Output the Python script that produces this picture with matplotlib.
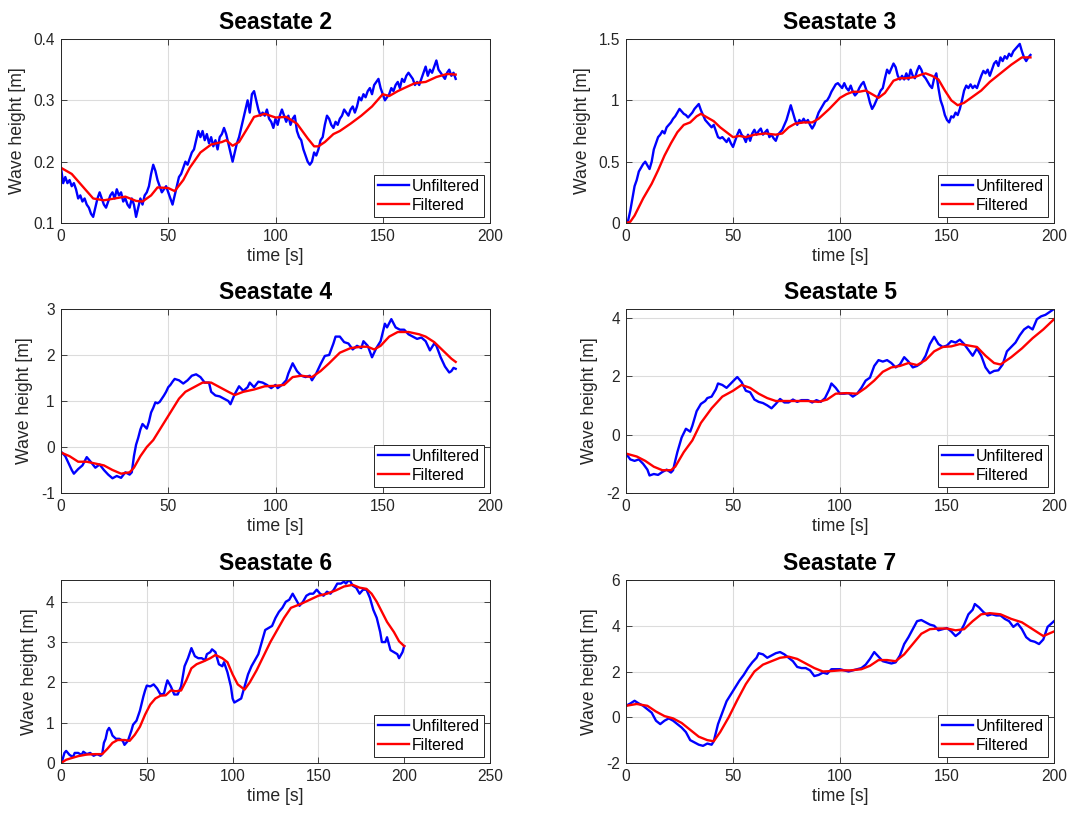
import numpy as np
import matplotlib
matplotlib.use("Agg")
import matplotlib.pyplot as plt
from matplotlib.ticker import FuncFormatter

plt.rcParams["font.family"] = ["Liberation Sans", "DejaVu Sans"]

# ---------------- Seastate 2 ----------------
ss2_raw_t = np.arange(0, 185)
ss2_raw = [0.19, 0.165, 0.175, 0.165, 0.17, 0.16, 0.165, 0.155, 0.14, 0.145,
           0.135, 0.14, 0.13, 0.125, 0.115, 0.11, 0.125, 0.14, 0.15, 0.14,
           0.13, 0.125, 0.135, 0.145, 0.15, 0.14, 0.155, 0.145, 0.15, 0.135,
           0.14, 0.13, 0.125, 0.14, 0.13, 0.11, 0.125, 0.14, 0.13, 0.145,
           0.15, 0.16, 0.18, 0.195, 0.185, 0.17, 0.16, 0.15, 0.155, 0.16,
           0.15, 0.14, 0.13, 0.145, 0.16, 0.175, 0.18, 0.19, 0.2, 0.195,
           0.205, 0.215, 0.22, 0.235, 0.25, 0.24, 0.25, 0.235, 0.245, 0.23,
           0.24, 0.225, 0.235, 0.22, 0.24, 0.245, 0.255, 0.245, 0.23, 0.215,
           0.2, 0.215, 0.23, 0.24, 0.255, 0.27, 0.285, 0.3, 0.28, 0.31,
           0.315, 0.3, 0.285, 0.275, 0.28, 0.275, 0.285, 0.27, 0.265, 0.255,
           0.27, 0.26, 0.275, 0.285, 0.275, 0.265, 0.275, 0.26, 0.27, 0.275,
           0.25, 0.24, 0.235, 0.22, 0.21, 0.2, 0.195, 0.2, 0.215, 0.21,
           0.22, 0.235, 0.24, 0.26, 0.275, 0.27, 0.26, 0.255, 0.265, 0.26,
           0.27, 0.275, 0.285, 0.28, 0.275, 0.285, 0.29, 0.28, 0.29, 0.305,
           0.3, 0.31, 0.305, 0.315, 0.32, 0.31, 0.325, 0.33, 0.335, 0.32,
           0.31, 0.3, 0.305, 0.31, 0.32, 0.315, 0.325, 0.33, 0.32, 0.335,
           0.33, 0.34, 0.345, 0.34, 0.335, 0.325, 0.33, 0.325, 0.335, 0.345,
           0.355, 0.34, 0.35, 0.345, 0.355, 0.365, 0.35, 0.345, 0.34, 0.335,
           0.345, 0.35, 0.34, 0.345, 0.335]
ss2_filt_t = [0, 5, 10, 15, 20, 25, 30, 35, 38, 42, 45, 50, 53, 57, 60, 65,
              70, 75, 77, 80, 83, 87, 90, 95, 100, 105, 110, 115, 118, 120,
              123, 127, 130, 135, 140, 145, 150, 153, 157, 160, 165, 170,
              175, 180, 184]
ss2_filt = [0.19, 0.18, 0.16, 0.14, 0.137, 0.14, 0.143, 0.136, 0.135, 0.145,
            0.158, 0.157, 0.152, 0.17, 0.19, 0.215, 0.228, 0.232, 0.235,
            0.226, 0.232, 0.255, 0.273, 0.278, 0.272, 0.273, 0.262, 0.238,
            0.225, 0.225, 0.232, 0.245, 0.25, 0.262, 0.275, 0.29, 0.31,
            0.307, 0.315, 0.32, 0.328, 0.33, 0.338, 0.343, 0.342]

# ---------------- Seastate 3 ----------------
ss3_raw_t = np.arange(0, 190)
ss3_raw = [0.01, 0.02, 0.1, 0.2, 0.3, 0.35, 0.42, 0.45, 0.48, 0.5,
           0.47, 0.44, 0.5, 0.6, 0.65, 0.7, 0.72, 0.75, 0.73, 0.78,
           0.8, 0.82, 0.85, 0.87, 0.9, 0.93, 0.91, 0.89, 0.88, 0.86,
           0.88, 0.9, 0.93, 0.95, 0.97, 0.92, 0.88, 0.84, 0.82, 0.8,
           0.78, 0.8, 0.75, 0.7, 0.69, 0.7, 0.68, 0.66, 0.69, 0.65,
           0.62, 0.67, 0.72, 0.76, 0.72, 0.7, 0.66, 0.72, 0.67, 0.73,
           0.76, 0.72, 0.75, 0.77, 0.72, 0.74, 0.76, 0.7, 0.72, 0.69,
           0.67, 0.72, 0.74, 0.76, 0.8, 0.84, 0.9, 0.96, 0.9, 0.84,
           0.8, 0.84, 0.82, 0.85, 0.82, 0.84, 0.8, 0.77, 0.8, 0.85,
           0.9, 0.93, 0.96, 0.99, 1.0, 1.03, 1.07, 1.1, 1.13, 1.14,
           1.12, 1.1, 1.14, 1.1, 1.08, 1.12, 1.07, 1.04, 1.06, 1.1,
           1.13, 1.15, 1.1, 1.05, 0.98, 0.93, 0.96, 1.0, 1.04, 1.08,
           1.1, 1.18, 1.25, 1.22, 1.26, 1.3, 1.27, 1.2, 1.17, 1.2,
           1.17, 1.22, 1.17, 1.25, 1.2, 1.18, 1.24, 1.28, 1.25, 1.2,
           1.18, 1.15, 1.12, 1.1, 1.18, 1.22, 1.1, 1.0, 0.95, 0.88,
           0.84, 0.82, 0.87, 0.86, 0.9, 0.88, 0.93, 1.0, 1.08, 1.12,
           1.1, 1.13, 1.1, 1.12, 1.1, 1.15, 1.2, 1.24, 1.22, 1.25,
           1.2, 1.25, 1.3, 1.32, 1.28, 1.35, 1.32, 1.36, 1.34, 1.38,
           1.36, 1.4, 1.42, 1.44, 1.46, 1.4, 1.35, 1.32, 1.35, 1.37]
ss3_filt_t = [0, 2, 4, 6, 8, 10, 12, 15, 18, 21, 24, 27, 30, 33, 35, 38, 41,
              44, 47, 50, 53, 56, 60, 65, 70, 73, 76, 79, 83, 87, 90, 95,
              100, 103, 106, 109, 112, 115, 118, 121, 125, 128, 131, 135,
              138, 140, 143, 146, 149, 152, 155, 158, 162, 166, 170, 175,
              180, 185, 189]
ss3_filt = [0.0, 0.01, 0.06, 0.13, 0.2, 0.26, 0.32, 0.43, 0.55, 0.65, 0.74,
            0.8, 0.82, 0.87, 0.89, 0.86, 0.83, 0.78, 0.74, 0.7, 0.71, 0.7,
            0.72, 0.73, 0.72, 0.73, 0.78, 0.81, 0.82, 0.82, 0.85, 0.93,
            1.02, 1.05, 1.07, 1.07, 1.08, 1.05, 1.02, 1.06, 1.16, 1.18,
            1.18, 1.19, 1.21, 1.22, 1.2, 1.17, 1.08, 1.0, 0.96, 0.98, 1.03,
            1.08, 1.15, 1.22, 1.29, 1.35, 1.35]

# ---------------- Seastate 4 ----------------
ss4_raw_t = [0, 2, 4, 5, 6, 8, 10, 12, 14, 16, 18, 20, 22, 24, 26, 28, 30,
             32, 33, 34, 35, 36, 37, 38, 39, 40, 41, 42, 43, 44, 45, 46, 47,
             48, 49, 50, 51, 52, 53, 55, 57, 59, 61, 63, 65, 67, 69, 70, 72,
             74, 76, 78, 79, 81, 83, 85, 87, 88, 90, 92, 94, 96, 98, 100,
             101, 103, 105, 106, 108, 110, 112, 114, 116, 117, 119, 121,
             123, 125, 127, 128, 130, 132, 134, 136, 138, 140, 141, 143,
             145, 147, 149, 151, 152, 154, 156, 158, 160, 162, 164, 166,
             168, 170, 172, 174, 175, 177, 179, 181, 182, 183, 184]
ss4_raw = [-0.1, -0.2, -0.4, -0.5, -0.58, -0.48, -0.4, -0.22, -0.33, -0.45,
           -0.38, -0.5, -0.6, -0.68, -0.63, -0.67, -0.55, -0.6, -0.55, -0.2,
           0.05, 0.2, 0.38, 0.5, 0.45, 0.4, 0.55, 0.75, 0.85, 0.97, 0.95,
           0.98, 1.05, 1.12, 1.2, 1.3, 1.35, 1.42, 1.48, 1.45, 1.38, 1.45,
           1.55, 1.58, 1.52, 1.4, 1.4, 1.2, 1.12, 1.1, 1.05, 1.0, 0.93,
           1.15, 1.32, 1.22, 1.3, 1.4, 1.3, 1.42, 1.4, 1.35, 1.28, 1.35,
           1.28, 1.35, 1.45, 1.6, 1.82, 1.65, 1.55, 1.52, 1.55, 1.45, 1.6,
           1.8, 1.98, 2.0, 2.25, 2.4, 2.4, 2.28, 2.25, 2.12, 2.2, 2.15,
           2.3, 2.2, 1.95, 2.15, 2.3, 2.68, 2.6, 2.78, 2.6, 2.55, 2.55,
           2.45, 2.4, 2.35, 2.38, 2.3, 2.1, 2.25, 2.2, 1.95, 1.75, 1.62,
           1.65, 1.72, 1.7]
ss4_filt_t = [0, 4, 8, 12, 16, 20, 24, 28, 32, 34, 37, 40, 43, 47, 51, 55,
              58, 62, 66, 70, 74, 78, 81, 85, 90, 95, 100, 104, 108, 112,
              117, 121, 125, 130, 135, 140, 143, 146, 149, 153, 157, 162,
              167, 170, 174, 178, 182, 184]
ss4_filt = [-0.12, -0.2, -0.32, -0.32, -0.36, -0.4, -0.5, -0.58, -0.55,
            -0.45, -0.2, 0.0, 0.15, 0.45, 0.75, 1.05, 1.2, 1.3, 1.4, 1.4,
            1.3, 1.2, 1.13, 1.2, 1.25, 1.32, 1.33, 1.35, 1.52, 1.55, 1.52,
            1.65, 1.82, 2.05, 2.15, 2.18, 2.18, 2.12, 2.2, 2.4, 2.5, 2.5,
            2.45, 2.4, 2.28, 2.1, 1.92, 1.85]

# ---------------- Seastate 5 ----------------
ss5_raw_t = [0, 2, 4, 6, 8, 10, 11, 13, 15, 17, 19, 21, 22, 23, 24, 26, 28,
             29, 30, 31, 33, 35, 37, 38, 40, 42, 43, 45, 47, 49, 51, 52, 54,
             56, 58, 60, 62, 64, 66, 68, 70, 72, 74, 76, 78, 80, 82, 85, 87,
             89, 91, 93, 95, 96, 98, 100, 102, 104, 106, 108, 110, 112, 114,
             116, 118, 120, 122, 124, 126, 128, 130, 132, 134, 136, 138,
             140, 142, 144, 146, 148, 150, 152, 154, 156, 158, 160, 162,
             164, 166, 168, 170, 172, 174, 176, 178, 180, 182, 184, 186,
             188, 190, 192, 194, 196, 198, 200]
ss5_raw = [-0.65, -0.85, -0.9, -0.85, -1.0, -1.2, -1.4, -1.35, -1.38, -1.28,
           -1.2, -1.3, -1.22, -0.9, -0.6, -0.1, 0.2, 0.15, 0.1, 0.3, 0.8,
           1.05, 1.15, 1.25, 1.3, 1.55, 1.75, 1.7, 1.6, 1.75, 1.9, 1.97,
           1.8, 1.5, 1.45, 1.2, 1.12, 1.08, 1.0, 0.9, 1.05, 1.22, 1.1, 1.1,
           1.2, 1.12, 1.18, 1.18, 1.1, 1.18, 1.12, 1.25, 1.55, 1.75, 1.6,
           1.4, 1.4, 1.42, 1.3, 1.4, 1.6, 1.85, 1.95, 2.35, 2.55, 2.5, 2.55,
           2.45, 2.3, 2.4, 2.65, 2.5, 2.3, 2.35, 2.45, 2.7, 3.1, 3.35, 3.1,
           3.0, 3.05, 3.2, 3.15, 3.25, 3.1, 2.9, 2.7, 2.95, 2.7, 2.3, 2.1,
           2.18, 2.2, 2.4, 2.85, 3.0, 3.15, 3.4, 3.6, 3.7, 3.6, 3.95, 4.05,
           4.1, 4.2, 4.3]
ss5_filt_t = [0, 5, 9, 13, 17, 21, 23, 27, 31, 35, 40, 45, 50, 54, 58, 62,
              66, 70, 75, 80, 85, 90, 94, 98, 103, 108, 112, 116, 120, 124,
              128, 132, 136, 140, 144, 148, 152, 156, 160, 164, 168, 172,
              175, 180, 185, 190, 195, 200]
ss5_filt = [-0.65, -0.75, -0.9, -1.1, -1.22, -1.22, -1.1, -0.6, -0.2, 0.4,
            0.9, 1.3, 1.5, 1.7, 1.6, 1.4, 1.25, 1.15, 1.15, 1.15, 1.15,
            1.12, 1.2, 1.4, 1.42, 1.4, 1.6, 1.85, 2.15, 2.3, 2.35, 2.45,
            2.38, 2.55, 2.85, 3.0, 3.02, 3.1, 3.05, 3.0, 2.7, 2.45, 2.4,
            2.65, 2.95, 3.3, 3.6, 3.95]

# ---------------- Seastate 6 ----------------
ss6_raw_t = [0, 1, 2, 3, 5, 7, 8, 10, 12, 13, 15, 17, 19, 21, 23, 24, 25,
             26, 27, 28, 29, 30, 32, 34, 36, 37, 39, 41, 42, 44, 46, 48, 49,
             50, 52, 54, 56, 58, 60, 61, 62, 64, 66, 68, 70, 72, 74, 76, 78,
             80, 82, 84, 85, 87, 88, 90, 92, 94, 95, 97, 99, 100, 101, 103,
             105, 107, 109, 111, 113, 115, 117, 119, 121, 123, 125, 127,
             129, 131, 133, 135, 137, 139, 141, 143, 145, 147, 149, 151,
             153, 155, 157, 159, 161, 163, 165, 166, 168, 170, 172, 174,
             176, 178, 180, 182, 184, 186, 187, 189, 190, 192, 194, 196,
             197, 199, 200]
ss6_raw = [0.0, 0.1, 0.25, 0.3, 0.2, 0.15, 0.25, 0.25, 0.2, 0.28, 0.22,
           0.25, 0.18, 0.22, 0.18, 0.22, 0.5, 0.6, 0.8, 0.87, 0.8, 0.68,
           0.6, 0.6, 0.55, 0.45, 0.55, 0.8, 0.95, 1.05, 1.3, 1.65, 1.8,
           1.92, 1.9, 1.95, 1.85, 1.7, 1.72, 1.9, 2.05, 1.9, 1.7, 1.7, 1.9,
           2.4, 2.6, 2.85, 2.65, 2.6, 2.6, 2.55, 2.7, 2.75, 2.82, 2.75,
           2.45, 2.4, 2.5, 2.25, 1.9, 1.6, 1.5, 1.55, 1.6, 1.9, 2.2, 2.4,
           2.55, 2.7, 3.0, 3.3, 3.35, 3.4, 3.6, 3.75, 3.85, 4.0, 4.05, 4.2,
           4.05, 3.9, 4.0, 4.15, 4.2, 4.2, 4.3, 4.2, 4.15, 4.25, 4.2, 4.3,
           4.45, 4.45, 4.5, 4.45, 4.55, 4.4, 4.35, 4.2, 4.3, 4.3, 4.1, 3.8,
           3.6, 3.25, 3.0, 3.0, 3.12, 2.8, 2.75, 2.7, 2.6, 2.75, 2.9]
ss6_filt_t = [0, 3, 6, 10, 15, 20, 24, 27, 30, 33, 37, 40, 43, 46, 49, 52,
              55, 58, 61, 64, 67, 70, 73, 76, 79, 83, 87, 90, 94, 97, 100,
              103, 107, 110, 114, 118, 122, 126, 130, 134, 137, 140, 145,
              150, 155, 160, 165, 170, 174, 178, 181, 184, 187, 190, 194,
              197, 200]
ss6_filt = [0.0, 0.08, 0.12, 0.17, 0.21, 0.22, 0.22, 0.35, 0.5, 0.57, 0.57,
            0.55, 0.7, 0.9, 1.2, 1.45, 1.6, 1.67, 1.68, 1.8, 1.78, 1.8,
            2.05, 2.35, 2.45, 2.52, 2.6, 2.68, 2.6, 2.5, 2.2, 1.95, 1.82,
            2.0, 2.3, 2.65, 3.0, 3.3, 3.6, 3.85, 3.9, 3.95, 4.05, 4.15, 4.2,
            4.28, 4.38, 4.42, 4.35, 4.32, 4.2, 4.0, 3.75, 3.5, 3.25, 3.02,
            2.9]

# ---------------- Seastate 7 ----------------
ss7_raw_t = [0, 2, 4, 6, 8, 10, 12, 14, 16, 18, 20, 22, 24, 26, 28, 30, 32,
             34, 36, 38, 40, 41, 43, 45, 47, 49, 51, 53, 55, 57, 59, 61, 62,
             64, 66, 68, 70, 72, 74, 76, 78, 80, 82, 84, 86, 88, 90, 92, 94,
             96, 98, 100, 102, 104, 106, 108, 110, 112, 114, 116, 118, 120,
             122, 124, 126, 128, 130, 132, 134, 136, 138, 140, 142, 144,
             146, 148, 150, 152, 154, 156, 158, 160, 162, 163, 165, 167,
             169, 171, 173, 175, 177, 179, 181, 183, 185, 187, 189, 191,
             193, 195, 197, 200]
ss7_raw = [0.5, 0.6, 0.72, 0.6, 0.5, 0.35, 0.2, -0.15, -0.3, -0.15, -0.05,
           -0.15, -0.3, -0.45, -0.65, -1.0, -1.1, -1.2, -1.25, -1.15, -1.2,
           -1.05, -0.3, 0.2, 0.7, 1.0, 1.3, 1.6, 1.85, 2.15, 2.4, 2.6, 2.8,
           2.75, 2.6, 2.7, 2.8, 2.85, 2.75, 2.6, 2.45, 2.2, 2.15, 2.15,
           2.05, 1.8, 1.85, 1.95, 1.9, 2.1, 2.1, 2.1, 2.05, 2.0, 2.05, 2.1,
           2.15, 2.3, 2.55, 2.85, 2.65, 2.45, 2.4, 2.35, 2.4, 2.7, 3.2, 3.5,
           3.85, 4.2, 4.25, 4.15, 4.05, 4.0, 3.8, 3.85, 3.9, 3.75, 3.55,
           3.7, 4.05, 4.5, 4.7, 4.95, 4.8, 4.6, 4.45, 4.5, 4.45, 4.45, 4.3,
           4.2, 3.95, 4.1, 3.85, 3.5, 3.35, 3.3, 3.2, 3.4, 3.95, 4.2]
ss7_filt_t = [0, 5, 10, 14, 18, 22, 26, 30, 34, 38, 41, 44, 48, 52, 56, 60,
              64, 68, 72, 76, 80, 84, 88, 92, 96, 100, 105, 110, 114, 118,
              122, 126, 130, 134, 138, 142, 146, 150, 154, 158, 162, 166,
              170, 175, 180, 185, 190, 195, 200]
ss7_filt = [0.5, 0.58, 0.5, 0.25, 0.05, -0.05, -0.25, -0.55, -0.85, -1.0,
            -1.05, -0.65, 0.0, 0.75, 1.45, 2.0, 2.3, 2.45, 2.6, 2.65, 2.55,
            2.35, 2.15, 2.0, 2.02, 2.05, 2.05, 2.1, 2.25, 2.5, 2.5, 2.45,
            2.75, 3.2, 3.65, 3.85, 3.88, 3.88, 3.8, 3.85, 4.2, 4.5, 4.55,
            4.5, 4.3, 4.15, 3.85, 3.55, 3.75]

# ---------------- axis settings per panel ----------------
titles = ["Seastate 2", "Seastate 3", "Seastate 4",
          "Seastate 5", "Seastate 6", "Seastate 7"]
xlims = [(0, 200), (0, 200), (0, 200), (0, 200), (0, 250), (0, 200)]
ylims = [(0.1, 0.4), (0, 1.5), (-1, 3), (-2, 4.3), (0, 4.54), (-2, 6)]
yticks = [[0.1, 0.2, 0.3, 0.4], [0, 0.5, 1, 1.5], [-1, 0, 1, 2, 3],
          [-2, 0, 2, 4], [0, 1, 2, 3, 4], [-2, 0, 2, 4, 6]]

raw_series = [(ss2_raw_t, ss2_raw), (ss3_raw_t, ss3_raw), (ss4_raw_t, ss4_raw),
              (ss5_raw_t, ss5_raw), (ss6_raw_t, ss6_raw), (ss7_raw_t, ss7_raw)]
filt_series = [(ss2_filt_t, ss2_filt), (ss3_filt_t, ss3_filt),
               (ss4_filt_t, ss4_filt), (ss5_filt_t, ss5_filt),
               (ss6_filt_t, ss6_filt), (ss7_filt_t, ss7_filt)]

W, H = 1072, 816
fig = plt.figure(figsize=(W / 100, H / 100), dpi=100)

# panel rectangles in pixels: (left, top, right, bottom)
col_x = [(61, 490), (626, 1054)]
row_y = [(39, 223), (309, 493), (580, 763)]

text_col = "#262626"
fmt = FuncFormatter(lambda v, p: "{:g}".format(round(v, 6)))

for i in range(6):
    r, c = divmod(i, 2)
    x0, x1 = col_x[c]
    y0, y1 = row_y[r]
    ax = fig.add_axes([x0 / W, 1 - y1 / H, (x1 - x0) / W, (y1 - y0) / H])

    ax.grid(True, color="#dcdcdc", linewidth=0.8)
    ax.set_axisbelow(True)

    tr, hr = raw_series[i]
    tf, hf = filt_series[i]
    ax.plot(tr, hr, color="#0000ff", linewidth=1.7, label="Unfiltered")
    ax.plot(tf, hf, color="#ff0000", linewidth=1.7, label="Filtered")

    ax.set_xlim(*xlims[i])
    ax.set_ylim(*ylims[i])
    ax.set_xticks(np.arange(xlims[i][0], xlims[i][1] + 1, 50))
    ax.set_yticks(yticks[i])
    ax.xaxis.set_major_formatter(fmt)
    ax.yaxis.set_major_formatter(fmt)

    ax.tick_params(direction="in", length=4, width=0.6, top=True, right=True,
                   labelsize=11.2, colors=text_col, pad=4.5)
    for sp in ax.spines.values():
        sp.set_color(text_col)
        sp.set_linewidth(0.7)

    ax.set_title(titles[i], fontsize=16.5, fontweight="bold", color="black",
                 pad=7)
    ax.set_xlabel("time [s]", fontsize=12.7, color=text_col, labelpad=3)
    ax.set_ylabel("Wave height [m]", fontsize=12.7, color=text_col,
                  labelpad=5.5)

    leg = ax.legend(loc="lower right", fontsize=11.4, frameon=True,
                    fancybox=False, framealpha=1, edgecolor=text_col,
                    handlelength=2.0, handletextpad=0.15, borderpad=0.25,
                    labelspacing=0.25, borderaxespad=0.4)
    leg.get_frame().set_linewidth(0.7)

fig.savefig("out.png", dpi=100)
